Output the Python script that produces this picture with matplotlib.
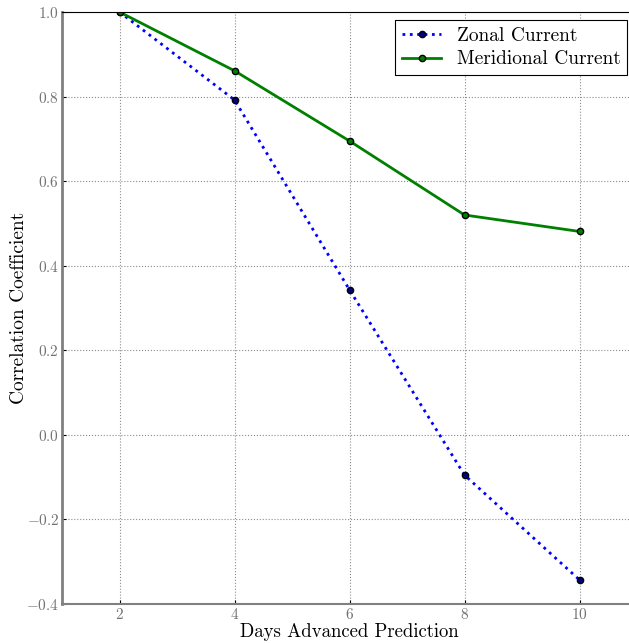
import matplotlib
matplotlib.use("Agg")
import matplotlib.pyplot as plt

plt.rcParams["font.family"] = "serif"
plt.rcParams["font.serif"] = ["cmr10"]
plt.rcParams["mathtext.fontset"] = "cm"
plt.rcParams["axes.formatter.use_mathtext"] = True
plt.rcParams["axes.unicode_minus"] = True

days = [2, 4, 6, 8, 10]
zonal = [1.0, 0.792, 0.343, -0.095, -0.343]
meridional = [1.0, 0.861, 0.695, 0.520, 0.481]

fig = plt.figure(figsize=(6.29, 6.43), dpi=100)
ax = fig.add_axes([62 / 629, 39 / 643, 575 / 629, 592 / 643])

ax.plot(days, zonal, color="blue", linestyle=":", linewidth=2, marker="o",
        markersize=4.5, markerfacecolor="navy", markeredgecolor="black",
        label="Zonal Current")
ax.plot(days, meridional, color="green", linestyle="-", linewidth=2, marker="o",
        markersize=4.5, markerfacecolor="green", markeredgecolor="black",
        label="Meridional Current")

ax.set_xlim(1, 11)
ax.set_ylim(-0.4, 1.0)
ax.set_xticks(days)
ax.set_yticks([-0.4, -0.2, 0.0, 0.2, 0.4, 0.6, 0.8, 1.0])
ax.grid(True, color="0.55", linestyle=":", linewidth=0.8)

ax.spines["left"].set_color("0.5")
ax.spines["left"].set_linewidth(2)
ax.spines["bottom"].set_color("0.5")
ax.spines["bottom"].set_linewidth(1.5)
ax.spines["top"].set_color("black")
ax.spines["right"].set_visible(False)
ax.tick_params(axis="both", labelsize=11, labelcolor="0.45", length=3,
               direction="in", top=False, right=False, pad=2)

ax.set_xlabel("Days Advanced Prediction", fontsize=13.5, labelpad=1)
ax.set_ylabel("Correlation Coefficient", fontsize=14, labelpad=-1)

leg = ax.legend(loc="upper right", bbox_to_anchor=(0.983, 0.9865), fontsize=14,
                fancybox=False, framealpha=1, edgecolor="black",
                handlelength=2.0, borderpad=0.35, labelspacing=0.3,
                borderaxespad=0)
leg.get_frame().set_linewidth(0.8)

fig.savefig("out.png", dpi=100)
